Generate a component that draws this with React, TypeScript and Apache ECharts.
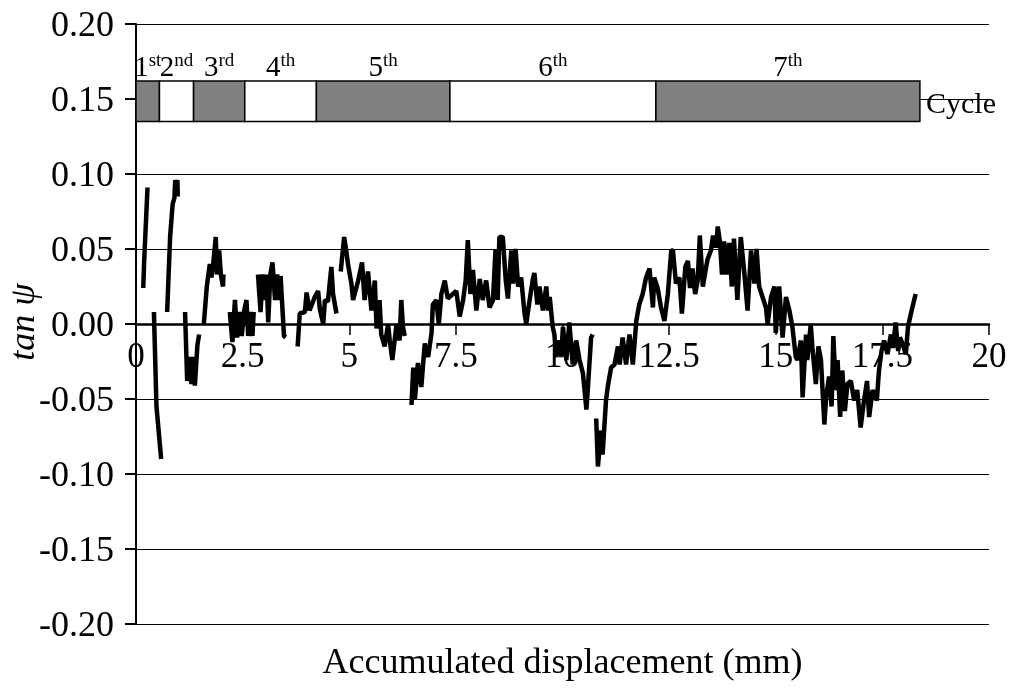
import React, { useEffect, useRef } from "react";
import * as echarts from "echarts";

// Accumulated displacement (mm) and tan psi; null marks a break in the trace
const disp: (number | null)[] = [
  0.17, 0.19, 0.27, null,
  0.42, 0.48, 0.59, null,
  0.73, 0.80, 0.84, 0.86, 0.90, 0.92, 0.95, 0.97, 0.98, null,
  1.15, 1.20, 1.26, 1.30, 1.34, 1.38, 1.44, 1.48, null,
  1.59, 1.66, 1.73, 1.77, 1.81, 1.87, 1.90, 1.95, 1.99, 2.04, 2.05, null,
  2.20, 2.26, 2.32, 2.37, 2.42, 2.48, 2.53, 2.59, 2.63, 2.69, 2.73, 2.76, null,
  2.86, 2.92, 2.97, 3.02, 3.06, 3.10, 3.15, 3.20, 3.26, 3.31, 3.36, 3.39, 3.44, 3.47, 3.51, null,
  3.79, 3.84, 3.96, 4.00, 4.07, 4.19, 4.27, 4.31, 4.39, 4.43, 4.50, 4.58, 4.62, 4.70, null,
  4.80, 4.88, 4.93, 4.97, 5.05, 5.09, 5.21, 5.30, 5.36, 5.44, 5.52, 5.60, 5.64, 5.71, 5.75, 5.83,
  5.91, 5.95, 6.01, 6.11, 6.18, 6.22, 6.26, 6.30, null,
  6.46, 6.50, 6.54, 6.61, 6.69, 6.77, 6.85, 6.93, 6.96, 7.04, 7.10, 7.16, 7.24, 7.31, 7.43, 7.51,
  7.59, 7.67, 7.73, 7.78, 7.84, 7.90, 7.98, 8.06, 8.13, 8.21, 8.29, 8.37, 8.43, 8.48, 8.52, 8.60,
  8.67, 8.72, 8.80, 8.84, 8.90, 8.96, 9.03, 9.11, 9.15, 9.23, 9.30, 9.34, 9.41, 9.46, 9.54, 9.62,
  9.66, 9.70, 9.77, 9.81, 9.85, 9.93, 9.97, 10.01, 10.09, 10.16, 10.24, 10.32, 10.40, 10.48, 10.56,
  10.59, 10.67, 10.71, null,
  10.79, 10.83, 10.91, 10.94, 11.02, 11.06, 11.14, 11.22, 11.30, 11.34, 11.41, 11.49, 11.57, 11.65,
  11.73, 11.80, 11.88, 11.96, 12.04, 12.12, 12.15, 12.23, 12.31, 12.39, 12.47, 12.55, 12.59, 12.66,
  12.74, 12.80, 12.88, 12.94, 12.99, 13.05, 13.11, 13.17, 13.22, 13.29, 13.35, 13.40, 13.48, 13.53,
  13.60, 13.64, 13.69, 13.74, 13.79, 13.85, 13.91, 13.97, 14.02, 14.10, 14.18, 14.26, 14.34, 14.42,
  14.50, 14.55, 14.61, 14.69, 14.77, 14.81, 14.89, 14.97, 15.00, 15.08, 15.16, 15.24, 15.32, 15.39,
  15.47, 15.51, 15.59, 15.63, 15.71, 15.74, 15.82, 15.86, 15.94, 16.00, 16.06, 16.14, 16.18, 16.25,
  16.31, 16.35, 16.41, 16.45, 16.51, 16.56, 16.62, 16.68, 16.76, 16.84, 16.91, 16.99, 17.07, 17.14,
  17.19, 17.27, 17.37, 17.42, 17.48, 17.54, 17.62, 17.70, 17.75, 17.81, 17.87, 17.91, 17.97, 18.05,
  18.10, 18.17, 18.22, 18.28,
];

const tanPsi: (number | null)[] = [
  0.024, 0.041, 0.091, null,
  0.008, -0.055, -0.090, null,
  0.008, 0.058, 0.073, 0.080, 0.084, 0.096, 0.090, 0.096, 0.085, null,
  0.008, -0.038, -0.022, -0.040, -0.022, -0.041, -0.014, -0.007, null,
  0.000, 0.025, 0.040, 0.031, 0.040, 0.058, 0.033, 0.049, 0.033, 0.025, 0.033, null,
  0.008, -0.012, 0.016, -0.009, 0.008, -0.008, 0.008, 0.016, -0.008, 0.008, -0.008, 0.008, null,
  0.033, 0.008, 0.033, 0.016, 0.033, 0.001, 0.033, 0.041, 0.016, 0.033, 0.016, 0.032, 0.007, -0.008, -0.009, null,
  -0.015, 0.007, 0.008, 0.021, 0.009, 0.018, 0.022, 0.010, 0.000, 0.016, 0.015, 0.038, 0.020, 0.007, null,
  0.035, 0.058, 0.049, 0.040, 0.027, 0.016, 0.029, 0.041, 0.016, 0.035, 0.009, 0.029, -0.003, 0.016, -0.007, -0.015,
  0.000, -0.011, -0.024, 0.000, -0.011, 0.016, -0.002, -0.008, null,
  -0.054, -0.029, -0.050, -0.026, -0.042, -0.013, -0.022, -0.006, 0.013, 0.016, 0.000, 0.020, 0.029, 0.017, 0.020, 0.022,
  0.005, 0.016, 0.029, 0.056, 0.020, 0.036, 0.009, 0.030, 0.016, 0.029, 0.011, 0.016, 0.050, 0.016, 0.058, 0.058,
  0.029, 0.017, 0.049, 0.027, 0.050, 0.025, 0.031, 0.007, 0.000, 0.016, 0.029, 0.034, 0.013, 0.025, 0.009, 0.025,
  0.009, 0.018, -0.002, -0.007, -0.022, -0.011, -0.022, -0.002, -0.024, 0.001, -0.027, -0.011, -0.024, -0.033, -0.057,
  -0.045, -0.009, -0.007, null,
  -0.063, -0.095, -0.071, -0.087, -0.051, -0.042, -0.029, -0.027, -0.015, -0.027, -0.009, -0.027, -0.007, -0.027,
  0.002, 0.013, 0.020, 0.031, 0.037, 0.011, 0.031, 0.024, 0.011, 0.002, 0.020, 0.049, 0.049, 0.027,
  0.031, 0.007, 0.038, 0.042, 0.024, 0.037, 0.020, 0.029, 0.059, 0.025, 0.035, 0.043, 0.049, 0.059,
  0.051, 0.065, 0.055, 0.033, 0.055, 0.033, 0.054, 0.025, 0.057, 0.016, 0.058, 0.035, 0.009, 0.049,
  0.027, 0.050, 0.025, 0.018, 0.011, 0.000, 0.018, 0.025, -0.006, 0.025, -0.009, 0.018, 0.009, -0.002,
  -0.022, -0.024, -0.011, -0.049, -0.007, -0.024, 0.000, -0.016, -0.040, -0.015, -0.024, -0.067, -0.049, -0.035,
  -0.055, -0.008, -0.044, -0.024, -0.062, -0.031, -0.058, -0.040, -0.038, -0.051, -0.044, -0.069, -0.051, -0.038,
  -0.062, -0.044, -0.051, -0.031, -0.018, -0.011, -0.020, -0.007, -0.016, 0.001, -0.018, -0.009, -0.013, -0.020,
  -0.002, 0.007, 0.013, 0.020,
];

// Loading cycles shown as bands above the trace
const cycleNum = ["1", "2", "3", "4", "5", "6", "7"];
const cycleSup = ["st", "nd", "rd", "th", "th", "th", "th"];
const cycleStart = [0, 0.55, 1.35, 2.55, 4.23, 7.36, 12.19];
const cycleEnd = [0.55, 1.35, 2.55, 4.23, 7.36, 12.19, 18.38];
const cycleBandLow = 0.135;
const cycleBandHigh = 0.162;

const xTicks = { min: 0, max: 20, interval: 2.5 };
const yTicks = { min: -0.2, max: 0.2, interval: 0.05 };

const FONT = "'Liberation Serif', 'Times New Roman', serif";
const GRID = { left: 136, right: 24, top: 24, bottom: 67 };

export default function App() {
  const ref = useRef<HTMLDivElement>(null);
  useEffect(() => {
    if (!ref.current) return;
    const chart = echarts.init(ref.current, undefined, { renderer: "svg" });
    const data = disp.map((x, i) => [x === null ? "-" : x, tanPsi[i] === null ? "-" : tanPsi[i]]);
    const areas = cycleNum.map((n, i) => [
      {
        name: String(i),
        xAxis: cycleStart[i],
        yAxis: cycleBandLow,
        itemStyle: { color: i % 2 === 0 ? "#808080" : "#ffffff", borderColor: "#000", borderWidth: 1.5 },
      },
      { xAxis: cycleEnd[i], yAxis: cycleBandHigh },
    ]);
    // the x axis sits on tanPsi = 0, i.e. half the plot height above the bottom edge
    const plotH = 691 - GRID.top - GRID.bottom;
    const zeroOffset = -plotH * (0 - yTicks.min) / (yTicks.max - yTicks.min);
    chart.setOption({
      animation: false,
      textStyle: { fontFamily: FONT, color: "#000" },
      grid: { ...GRID, containLabel: false, outerBoundsMode: "none" },
      xAxis: {
        type: "value",
        min: xTicks.min,
        max: xTicks.max,
        interval: xTicks.interval,
        offset: zeroOffset,
        axisLine: { onZero: false, lineStyle: { color: "#000", width: 2.5 } },
        axisTick: { show: true, inside: false, length: 11, lineStyle: { color: "#000", width: 1.5 } },
        axisLabel: {
          fontFamily: FONT,
          fontSize: 35,
          color: "#000",
          margin: 14,
          formatter: (v: number) => String(v),
        },
        splitLine: { show: false },
        name: "Accumulated displacement (mm)",
        nameLocation: "middle",
        nameGap: 319,
        nameTextStyle: { fontFamily: FONT, fontSize: 36, color: "#000" },
      },
      yAxis: {
        type: "value",
        min: yTicks.min,
        max: yTicks.max,
        interval: yTicks.interval,
        axisLine: { show: true, onZero: false, lineStyle: { color: "#000", width: 2 } },
        axisTick: { show: true, inside: false, length: 11, lineStyle: { color: "#000", width: 2 } },
        axisLabel: {
          fontFamily: FONT,
          fontSize: 36,
          color: "#000",
          margin: 22,
          formatter: (v: number) => v.toFixed(2),
        },
        splitLine: { show: true, lineStyle: { color: "#000", width: 1.2 } },
      },
      graphic: [
        {
          type: "text",
          left: 926,
          top: 87,
          style: { text: "Cycle", font: `30px ${FONT}`, fill: "#000" },
        },
        {
          type: "text",
          x: 22,
          y: 322,
          rotation: Math.PI / 2,
          style: {
            text: "tan ψ",
            font: `italic 36px ${FONT}`,
            fill: "#000",
            align: "center",
            verticalAlign: "middle",
          },
        },
      ],
      series: [
        {
          type: "line",
          data,
          showSymbol: false,
          connectNulls: false,
          lineStyle: { color: "#000", width: 4.5 },
          z: 3,
          markArea: {
            silent: true,
            label: {
              show: true,
              position: "top",
              distance: 0,
              formatter: (p: any) => {
                const i = Number(p.name);
                return `{n|${cycleNum[i]}}{s|${cycleSup[i]}}`;
              },
              rich: {
                n: { fontFamily: FONT, fontSize: 29, color: "#000", lineHeight: 30, verticalAlign: "bottom" },
                s: { fontFamily: FONT, fontSize: 19, color: "#000", lineHeight: 20, verticalAlign: "top" },
              },
            },
            data: areas,
          },
        },
      ],
    });
    return () => chart.dispose();
  }, []);
  return <div ref={ref} style={{ position: "fixed", left: 0, top: 0, width: 1013, height: 691 }} />;
}
